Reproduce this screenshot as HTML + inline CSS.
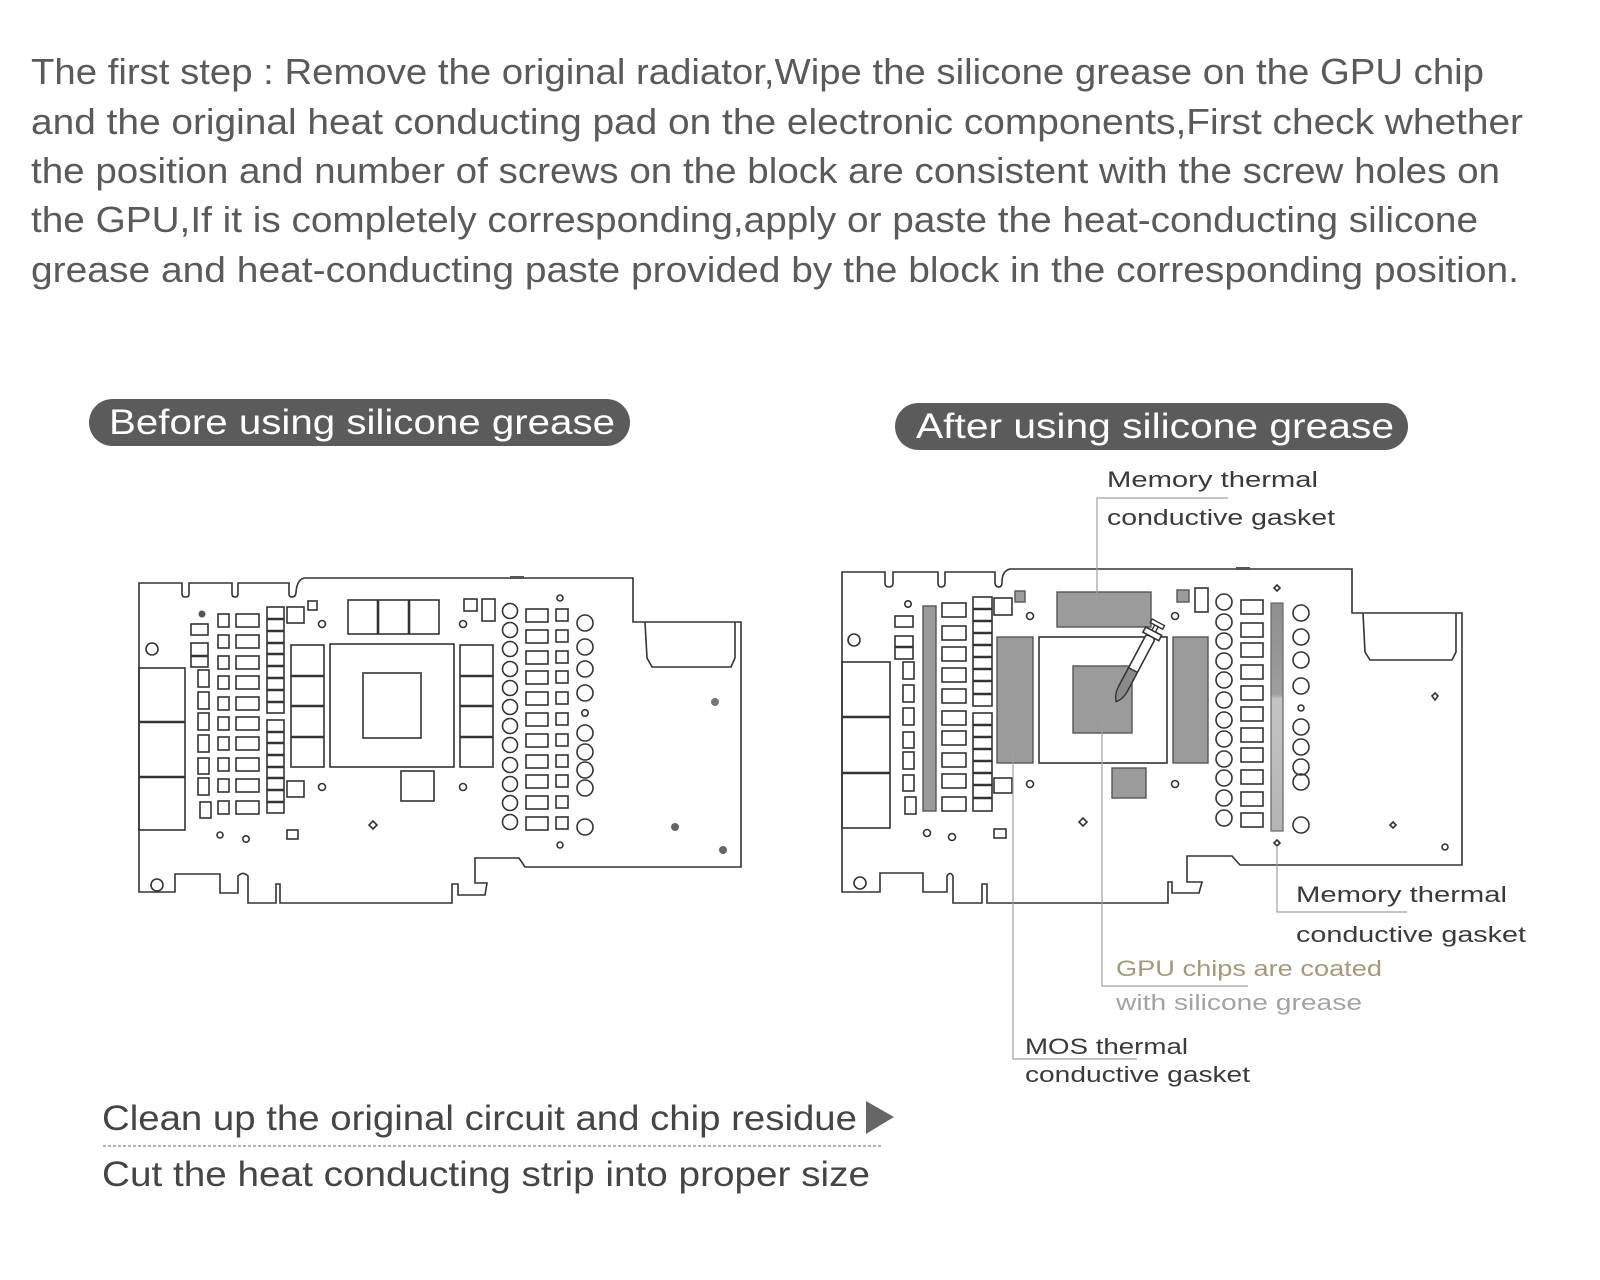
<!DOCTYPE html>
<html>
<head>
<meta charset="utf-8">
<style>
html,body{margin:0;padding:0;background:#fff;}
svg{display:block;}
.hd{font-family:"Liberation Sans",sans-serif;font-size:36px;fill:#5a5a5a;}
.pl{font-family:"Liberation Sans",sans-serif;font-size:35px;fill:#fff;}
.lb{font-family:"Liberation Sans",sans-serif;font-size:22px;fill:#3a3a3a;}
.bt{font-family:"Liberation Sans",sans-serif;font-size:35px;fill:#454545;}
.b{fill:none;stroke:#333;stroke-width:1.6;}
.bw{fill:#fff;stroke:#333;stroke-width:1.6;}
.d{stroke:#333;stroke-width:2.6;}
.g{fill:#9b9b9b;stroke:#555;stroke-width:1.4;}
.cn{fill:none;stroke:#a0a0a0;stroke-width:1.2;}
</style>
</head>
<body>
<svg width="1600" height="1280" viewBox="0 0 1600 1280" xmlns="http://www.w3.org/2000/svg">
<rect width="1600" height="1280" fill="#fff"/>

<!-- Header text -->
<text class="hd" x="31" y="84" textLength="1453" lengthAdjust="spacingAndGlyphs">The first step : Remove the original radiator,Wipe the silicone grease on the GPU chip</text>
<text class="hd" x="31" y="134" textLength="1492" lengthAdjust="spacingAndGlyphs">and the original heat conducting pad on the electronic components,First check whether</text>
<text class="hd" x="31" y="183" textLength="1469" lengthAdjust="spacingAndGlyphs">the position and number of screws on the block are consistent with the screw holes on</text>
<text class="hd" x="31" y="232" textLength="1447" lengthAdjust="spacingAndGlyphs">the GPU,If it is completely corresponding,apply or paste the heat-conducting silicone</text>
<text class="hd" x="31" y="282" textLength="1488" lengthAdjust="spacingAndGlyphs">grease and heat-conducting paste provided by the block in the corresponding position.</text>

<!-- Pills -->
<rect x="89" y="399" width="541" height="47" rx="23.5" fill="#5b5b5b"/>
<text class="pl" x="109" y="434" textLength="506" lengthAdjust="spacingAndGlyphs">Before using silicone grease</text>
<rect x="895" y="403" width="513" height="47" rx="23.5" fill="#5b5b5b"/>
<text class="pl" x="916" y="438" textLength="478" lengthAdjust="spacingAndGlyphs">After using silicone grease</text>

<!-- ================= LEFT BOARD ================= -->
<g>
<path class="b" d="M139,583 L182,583 L182,594 Q182,597 185,597 L186,597 Q189,597 189,594 L189,583 L232,583 L232,594 Q232,597 235,597 Q238,597 238,594 L238,583 L289,583 L289,594 Q289,597 292,597 Q296,597 296,592 Q297,580 304,578 L633,578 L633,622 L741,622 L741,867 L525,867 L519,858 L475,858 L475,883 L487,883 L485,895 L458,895 L458,884 L452,884 L452,903 L280,903 L280,884 L276,884 L276,903 L248,903 L248,876 Q243,871 238,876 L238,893 L220,893 L220,874 L175,874 L175,892 L139,892 Z"/>
<path class="b" d="M645,622 L647,658 L652,667 L731,667 L735,658 L735,622"/>
<rect x="510" y="576" width="14" height="3" fill="#555"/>
<circle class="b" cx="152" cy="649" r="6"/>
<circle class="b" cx="157" cy="885" r="6"/>
<!-- IO -->
<rect class="b" x="139" y="668" width="46" height="162"/>
<line class="d" x1="139" y1="722" x2="185" y2="722"/>
<line class="d" x1="139" y1="777" x2="185" y2="777"/>
<circle cx="202" cy="614" r="3.5" fill="#555"/>
<rect class="b" x="191" y="624" width="17" height="11"/>
<rect class="b" x="191" y="643" width="17" height="24"/>
<line class="d" x1="191" y1="656" x2="208" y2="656"/>
<!-- col A2 -->
<rect class="b" x="198" y="670" width="11" height="17"/>
<rect class="b" x="198" y="692" width="11" height="17"/>
<rect class="b" x="198" y="713" width="11" height="17"/>
<rect class="b" x="198" y="735" width="11" height="17"/>
<rect class="b" x="198" y="758" width="11" height="16"/>
<rect class="b" x="198" y="778" width="11" height="17"/>
<rect class="b" x="200" y="802" width="11" height="16"/>
<!-- col B -->
<rect class="b" x="218" y="614" width="11" height="13"/>
<rect class="b" x="218" y="635" width="11" height="13"/>
<rect class="b" x="218" y="656" width="11" height="13"/>
<rect class="b" x="218" y="676" width="11" height="13"/>
<rect class="b" x="218" y="697" width="11" height="13"/>
<rect class="b" x="218" y="717" width="11" height="13"/>
<rect class="b" x="218" y="737" width="11" height="13"/>
<rect class="b" x="218" y="758" width="11" height="13"/>
<rect class="b" x="218" y="779" width="11" height="13"/>
<rect class="b" x="218" y="801" width="11" height="13"/>
<!-- col C -->
<rect class="b" x="236" y="614" width="23" height="13"/>
<rect class="b" x="236" y="635" width="23" height="13"/>
<rect class="b" x="236" y="656" width="23" height="13"/>
<rect class="b" x="236" y="676" width="23" height="13"/>
<rect class="b" x="236" y="697" width="23" height="13"/>
<rect class="b" x="236" y="717" width="23" height="13"/>
<rect class="b" x="236" y="737" width="23" height="13"/>
<rect class="b" x="236" y="758" width="23" height="13"/>
<rect class="b" x="236" y="779" width="23" height="13"/>
<rect class="b" x="236" y="801" width="23" height="13"/>
<!-- col D inductors -->
<rect class="b" x="267" y="607" width="17" height="106"/>
<rect class="b" x="267" y="720" width="17" height="93"/>
<g class="d">
<line x1="267" y1="619" x2="284" y2="619"/><line x1="267" y1="631" x2="284" y2="631"/><line x1="267" y1="643" x2="284" y2="643"/><line x1="267" y1="654" x2="284" y2="654"/><line x1="267" y1="666" x2="284" y2="666"/><line x1="267" y1="678" x2="284" y2="678"/><line x1="267" y1="690" x2="284" y2="690"/><line x1="267" y1="702" x2="284" y2="702"/>
<line x1="267" y1="732" x2="284" y2="732"/><line x1="267" y1="743" x2="284" y2="743"/><line x1="267" y1="755" x2="284" y2="755"/><line x1="267" y1="767" x2="284" y2="767"/><line x1="267" y1="778" x2="284" y2="778"/><line x1="267" y1="790" x2="284" y2="790"/><line x1="267" y1="802" x2="284" y2="802"/>
</g>
<rect class="b" x="287" y="607" width="17" height="16"/>
<rect class="b" x="308" y="601" width="9" height="9"/>
<rect class="b" x="287" y="781" width="17" height="16"/>
<circle class="b" cx="322" cy="624" r="3.5" stroke-width="2"/>
<circle class="b" cx="322" cy="787" r="3.5" stroke-width="2"/>
<circle class="b" cx="463" cy="624" r="3.5" stroke-width="2"/>
<circle class="b" cx="463" cy="787" r="3.5" stroke-width="2"/>
<!-- top three -->
<rect class="b" x="348" y="600" width="91" height="34"/>
<line class="d" x1="378" y1="600" x2="378" y2="634"/>
<line class="d" x1="409" y1="600" x2="409" y2="634"/>
<!-- MOS stacks -->
<rect class="b" x="291" y="645" width="33" height="122"/>
<line class="d" x1="291" y1="676" x2="324" y2="676"/>
<line class="d" x1="291" y1="706" x2="324" y2="706"/>
<line class="d" x1="291" y1="737" x2="324" y2="737"/>
<rect class="b" x="460" y="645" width="33" height="122"/>
<line class="d" x1="460" y1="676" x2="493" y2="676"/>
<line class="d" x1="460" y1="706" x2="493" y2="706"/>
<line class="d" x1="460" y1="737" x2="493" y2="737"/>
<!-- GPU -->
<rect class="b" x="330" y="644" width="124" height="123"/>
<rect class="b" x="363" y="673" width="58" height="65"/>
<rect class="b" x="401" y="771" width="33" height="30"/>
<path class="b" d="M373,821 L377,825 L373,829 L369,825 Z" stroke-width="2"/>
<circle class="b" cx="220" cy="835" r="3"/>
<circle class="b" cx="246" cy="839" r="3.2" stroke-width="2"/>
<rect class="b" x="287" y="830" width="11" height="9"/>
<rect class="b" x="464" y="599" width="13" height="12"/>
<rect class="b" x="482" y="599" width="13" height="22"/>
<!-- circle col 1 -->
<g class="b">
<circle cx="510" cy="611" r="7.5"/><circle cx="510" cy="630" r="7.5"/><circle cx="510" cy="649" r="7.5"/><circle cx="510" cy="669" r="7.5"/><circle cx="510" cy="688" r="7.5"/><circle cx="510" cy="707" r="7.5"/><circle cx="510" cy="726" r="7.5"/><circle cx="510" cy="745" r="7.5"/><circle cx="510" cy="765" r="7.5"/><circle cx="510" cy="784" r="7.5"/><circle cx="510" cy="803" r="7.5"/><circle cx="510" cy="822" r="7.5"/>
</g>
<g class="b">
<rect x="526" y="609" width="22" height="13"/><rect x="526" y="630" width="22" height="13"/><rect x="526" y="651" width="22" height="13"/><rect x="526" y="671" width="22" height="13"/><rect x="526" y="692" width="22" height="13"/><rect x="526" y="713" width="22" height="13"/><rect x="526" y="734" width="22" height="13"/><rect x="526" y="755" width="22" height="13"/><rect x="526" y="775" width="22" height="13"/><rect x="526" y="796" width="22" height="13"/><rect x="526" y="817" width="22" height="13"/>
<rect x="556" y="609" width="12" height="12"/><rect x="556" y="630" width="12" height="12"/><rect x="556" y="651" width="12" height="12"/><rect x="556" y="671" width="12" height="12"/><rect x="556" y="692" width="12" height="12"/><rect x="556" y="713" width="12" height="12"/><rect x="556" y="734" width="12" height="12"/><rect x="556" y="755" width="12" height="12"/><rect x="556" y="775" width="12" height="12"/><rect x="556" y="796" width="12" height="12"/><rect x="556" y="817" width="12" height="12"/>
</g>
<circle class="b" cx="560" cy="598" r="3" stroke-width="2"/>
<circle class="b" cx="560" cy="845" r="3" stroke-width="2"/>
<g class="b">
<circle cx="585" cy="623" r="8"/><circle cx="585" cy="647" r="8"/><circle cx="585" cy="669" r="8"/><circle cx="585" cy="693" r="8"/><circle cx="585" cy="713" r="3.2"/><circle cx="585" cy="733" r="8"/><circle cx="585" cy="752" r="8"/><circle cx="585" cy="770" r="8"/><circle cx="585" cy="788" r="8"/><circle cx="585" cy="827" r="8"/>
</g>
<circle cx="715" cy="702" r="4" fill="#777"/>
<circle cx="675" cy="827" r="4" fill="#666"/>
<circle cx="723" cy="850" r="4" fill="#666"/>
</g>

<!-- ================= RIGHT BOARD ================= -->
<g>
<path class="b" d="M842,572 L885,572 L885,583 Q885,587 889,587 Q893,587 893,583 L893,572 L938,572 L938,583 Q938,587 941,587 Q945,587 945,583 L945,572 L995,572 L995,582 Q995,587 999,587 Q1002,587 1002,582 Q1002,571 1010,569 L1352,569 L1352,613 L1462,613 L1462,865 L1240,865 L1232,856 L1187,856 L1187,882 L1202,882 L1199,893 L1172,893 L1172,882 L1168,882 L1168,903 L987,903 L987,884 L982,884 L982,903 L953,903 L953,876 Q950,871 947,876 L947,892 L923,892 L923,873 L880,873 L880,892 L842,892 Z"/>
<path class="b" d="M1363,613 L1365,652 L1370,660 L1452,660 L1456,652 L1456,613"/>
<rect x="1236" y="567" width="14" height="3" fill="#555"/>
<circle class="b" cx="854" cy="640" r="6"/>
<circle class="b" cx="860" cy="883" r="6"/>
<rect class="b" x="842" y="662" width="48" height="166"/>
<line class="d" x1="842" y1="717" x2="890" y2="717"/>
<line class="d" x1="842" y1="773" x2="890" y2="773"/>
<circle class="b" cx="908" cy="604" r="3.2" stroke-width="2"/>
<rect class="b" x="895" y="616" width="18" height="11"/>
<rect class="b" x="895" y="636" width="18" height="23"/>
<line class="d" x1="895" y1="647" x2="913" y2="647"/>
<g class="b">
<rect x="903" y="662" width="11" height="17"/><rect x="903" y="685" width="11" height="17"/><rect x="903" y="708" width="11" height="17"/><rect x="903" y="732" width="11" height="16"/><rect x="903" y="752" width="11" height="17"/><rect x="903" y="775" width="11" height="16"/><rect x="905" y="797" width="11" height="17"/>
</g>
<rect class="g" x="923" y="606" width="13" height="205"/>
<g class="b">
<rect x="942" y="603" width="24" height="14"/><rect x="942" y="626" width="24" height="14"/><rect x="942" y="647" width="24" height="14"/><rect x="942" y="668" width="24" height="14"/><rect x="942" y="689" width="24" height="14"/><rect x="942" y="711" width="24" height="14"/><rect x="942" y="731" width="24" height="14"/><rect x="942" y="753" width="24" height="14"/><rect x="942" y="774" width="24" height="14"/><rect x="942" y="797" width="24" height="14"/>
</g>
<rect class="b" x="973" y="597" width="19" height="109"/>
<rect class="b" x="973" y="713" width="19" height="98"/>
<g class="d">
<line x1="973" y1="609" x2="992" y2="609"/><line x1="973" y1="621" x2="992" y2="621"/><line x1="973" y1="633" x2="992" y2="633"/><line x1="973" y1="645" x2="992" y2="645"/><line x1="973" y1="657" x2="992" y2="657"/><line x1="973" y1="669" x2="992" y2="669"/><line x1="973" y1="681" x2="992" y2="681"/><line x1="973" y1="694" x2="992" y2="694"/>
<line x1="973" y1="725" x2="992" y2="725"/><line x1="973" y1="737" x2="992" y2="737"/><line x1="973" y1="749" x2="992" y2="749"/><line x1="973" y1="761" x2="992" y2="761"/><line x1="973" y1="773" x2="992" y2="773"/><line x1="973" y1="785" x2="992" y2="785"/><line x1="973" y1="798" x2="992" y2="798"/>
</g>
<rect class="b" x="994" y="598" width="18" height="17"/>
<rect class="b" x="994" y="778" width="18" height="15"/>
<rect class="g" x="1015" y="591" width="10" height="11"/>
<circle class="b" cx="1030" cy="616" r="3.5" stroke-width="2"/>
<circle class="b" cx="1030" cy="784" r="3.5" stroke-width="2"/>
<circle class="b" cx="1175" cy="616" r="3.5" stroke-width="2"/>
<circle class="b" cx="1175" cy="784" r="3.5" stroke-width="2"/>
<rect class="g" x="997" y="637" width="36" height="126"/>
<rect class="bw" x="1039" y="637" width="128" height="126"/>
<rect class="g" x="1073" y="666" width="59" height="67"/>
<rect class="g" x="1057" y="592" width="94" height="35"/>
<rect class="g" x="1173" y="637" width="35" height="126"/>
<rect class="g" x="1112" y="768" width="34" height="30"/>
<!-- syringe -->
<g transform="translate(1133,670) rotate(28)">
<rect x="-5" y="-38" width="10" height="62" rx="3" fill="#fff" stroke="#333" stroke-width="1.6"/>
<path d="M-5,0 L5,0 L5,22 Q5,30 0,36 Q-5,30 -5,22 Z" fill="#8a8a8a" stroke="#333" stroke-width="1.4"/>
<rect x="-9" y="-44" width="18" height="6" fill="#fff" stroke="#333" stroke-width="1.6"/>
<rect x="-2" y="-50" width="4" height="6" fill="#fff" stroke="#333" stroke-width="1.4"/>
<rect x="-7" y="-54" width="14" height="4" fill="#fff" stroke="#333" stroke-width="1.4"/>
</g>
<path class="b" d="M1083,818 L1087,822 L1083,826 L1079,822 Z" stroke-width="2"/>
<circle class="b" cx="927" cy="833" r="3.5"/>
<circle class="b" cx="952" cy="837" r="3.5" stroke-width="2"/>
<rect class="b" x="994" y="829" width="12" height="9"/>
<rect class="g" x="1177" y="590" width="12" height="12"/>
<rect class="b" x="1195" y="588" width="13" height="24"/>
<g class="b">
<circle cx="1224" cy="602" r="8"/><circle cx="1224" cy="622" r="8"/><circle cx="1224" cy="641" r="8"/><circle cx="1224" cy="661" r="8"/><circle cx="1224" cy="680" r="8"/><circle cx="1224" cy="700" r="8"/><circle cx="1224" cy="720" r="8"/><circle cx="1224" cy="739" r="8"/><circle cx="1224" cy="759" r="8"/><circle cx="1224" cy="778" r="8"/><circle cx="1224" cy="798" r="8"/><circle cx="1224" cy="818" r="8"/>
</g>
<g class="b">
<rect x="1241" y="600" width="22" height="14"/><rect x="1241" y="623" width="22" height="14"/><rect x="1241" y="643" width="22" height="14"/><rect x="1241" y="665" width="22" height="14"/><rect x="1241" y="686" width="22" height="14"/><rect x="1241" y="707" width="22" height="14"/><rect x="1241" y="728" width="22" height="14"/><rect x="1241" y="748" width="22" height="14"/><rect x="1241" y="770" width="22" height="14"/><rect x="1241" y="792" width="22" height="14"/><rect x="1241" y="813" width="22" height="14"/>
</g>
<defs>
<linearGradient id="ms" x1="0" y1="0" x2="0" y2="1">
<stop offset="0" stop-color="#8e8e8e"/><stop offset="0.4" stop-color="#9e9e9e"/><stop offset="0.42" stop-color="#c4c4c4"/><stop offset="1" stop-color="#b4b4b4"/>
</linearGradient>
</defs>
<rect x="1271" y="603" width="12" height="228" fill="url(#ms)" stroke="#666" stroke-width="1.2"/>
<path class="b" d="M1277,585 L1280,588 L1277,591 L1274,588 Z" stroke-width="2"/>
<path class="b" d="M1277,840 L1280,843 L1277,846 L1274,843 Z" stroke-width="2"/>
<g class="b">
<circle cx="1301" cy="613" r="8"/><circle cx="1301" cy="637" r="8"/><circle cx="1301" cy="660" r="8"/><circle cx="1301" cy="686" r="8"/><circle cx="1301" cy="708" r="3"/><circle cx="1301" cy="727" r="8"/><circle cx="1301" cy="747" r="8"/><circle cx="1301" cy="767" r="8"/><circle cx="1301" cy="782" r="8"/><circle cx="1301" cy="825" r="8"/>
</g>
<path class="b" d="M1435,693 L1438,696 L1435,700 L1432,696 Z" stroke-width="2"/>
<path class="b" d="M1393,822 L1396,825 L1393,828 L1390,825 Z" stroke-width="2"/>
<circle class="b" cx="1445" cy="847" r="3"/>
</g>

<!-- connector lines -->
<path class="cn" d="M1097,603 L1097,498 L1228,498"/>
<path class="cn" d="M1277,846 L1277,912 L1407,912"/>
<path class="cn" d="M1102,722 L1102,986 L1248,986"/>
<path class="cn" d="M1013,750 L1013,1059 L1137,1059"/>

<!-- labels -->
<text class="lb" x="1107" y="487" textLength="211" lengthAdjust="spacingAndGlyphs">Memory thermal</text>
<text class="lb" x="1107" y="525" textLength="228" lengthAdjust="spacingAndGlyphs">conductive gasket</text>
<text class="lb" x="1296" y="902" textLength="211" lengthAdjust="spacingAndGlyphs">Memory thermal</text>
<text class="lb" x="1296" y="942" textLength="230" lengthAdjust="spacingAndGlyphs">conductive gasket</text>
<text class="lb" x="1116" y="976" textLength="266" lengthAdjust="spacingAndGlyphs" style="fill:#a5997a">GPU chips are coated</text>
<text class="lb" x="1116" y="1010" textLength="246" lengthAdjust="spacingAndGlyphs" style="fill:#a3a3a3">with silicone grease</text>
<text class="lb" x="1025" y="1054" textLength="163" lengthAdjust="spacingAndGlyphs">MOS thermal</text>
<text class="lb" x="1025" y="1082" textLength="225" lengthAdjust="spacingAndGlyphs">conductive gasket</text>

<!-- bottom text -->
<text class="bt" x="102" y="1130" textLength="755" lengthAdjust="spacingAndGlyphs">Clean up the original circuit and chip residue</text>
<polygon points="866,1101 894,1117 866,1134" fill="#666"/>
<line x1="103" y1="1146" x2="883" y2="1146" stroke="#888" stroke-width="1.2" stroke-dasharray="3 2"/>
<text class="bt" x="102" y="1186" textLength="768" lengthAdjust="spacingAndGlyphs">Cut the heat conducting strip into proper size</text>
</svg>
</body>
</html>
